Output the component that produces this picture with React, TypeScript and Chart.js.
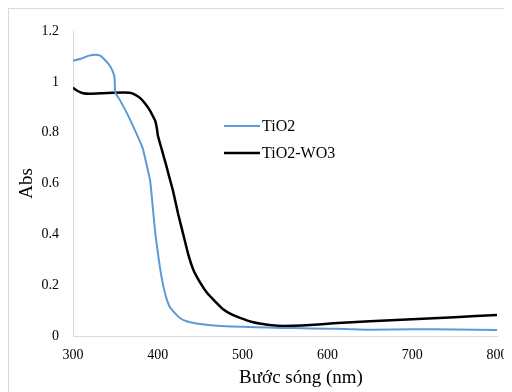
import React, { useEffect, useRef } from "react";
import { Chart, registerables } from "chart.js";

Chart.register(...registerables);

const seriesLabels = ["TiO2", "TiO2-WO3"];

const tio2X = [300, 310, 318, 326, 332, 338, 343, 347, 349, 350, 355, 364, 375, 382, 388, 391, 394, 397, 400, 403, 406, 410, 414, 418, 426, 435, 450, 470, 500, 530, 560, 600, 620, 650, 700, 750, 800];
const tio2Y = [1.083, 1.092, 1.102, 1.107, 1.103, 1.085, 1.065, 1.04, 1.016, 0.957, 0.93, 0.874, 0.795, 0.74, 0.657, 0.61, 0.51, 0.405, 0.33, 0.26, 0.205, 0.15, 0.115, 0.098, 0.071, 0.057, 0.047, 0.04, 0.036, 0.033, 0.031, 0.029, 0.028, 0.025, 0.027, 0.026, 0.024];

const wo3X = [300, 305, 312, 320, 335, 347, 360, 367, 373, 379, 385, 391, 395, 397, 399, 400, 405, 410, 414, 418, 424, 430, 436, 442, 450, 458, 467, 477, 487, 497, 510, 524, 541, 560, 580, 607, 650, 700, 750, 800];
const wo3Y = [0.977, 0.965, 0.955, 0.953, 0.955, 0.957, 0.958, 0.957, 0.95, 0.937, 0.915, 0.886, 0.86, 0.846, 0.815, 0.79, 0.73, 0.67, 0.62, 0.57, 0.48, 0.4, 0.32, 0.26, 0.21, 0.17, 0.138, 0.105, 0.085, 0.071, 0.056, 0.047, 0.04, 0.04, 0.043, 0.05, 0.058, 0.066, 0.074, 0.083];

const xTitle = "Bước sóng (nm)";
const yTitle = "Abs";

const FONT = "'Liberation Serif', 'Times New Roman', serif";

const overlayPlugin = {
  id: "overlay",
  afterDraw(chart: any) {
    const ctx = chart.ctx;
    const area = chart.chartArea;
    ctx.save();
    ctx.fillStyle = "#000";
    ctx.font = `19px ${FONT}`;
    ctx.textAlign = "center";
    ctx.textBaseline = "middle";
    ctx.fillText(xTitle, (area.left + area.right) / 2 + 16, 369);
    ctx.font = `16px ${FONT}`;
    ctx.textAlign = "left";
    chart.data.datasets.forEach((ds: any, i: number) => {
      const y = 117 + i * 27;
      ctx.strokeStyle = ds.borderColor;
      ctx.lineWidth = ds.borderWidth;
      ctx.beginPath();
      ctx.moveTo(215, y);
      ctx.lineTo(251, y);
      ctx.stroke();
      ctx.fillText(ds.label, 253, y + 1);
    });
    ctx.restore();
  },
};

export default function App() {
  const ref = useRef<HTMLCanvasElement>(null);
  useEffect(() => {
    const chart = new Chart(ref.current!, {
      type: "line",
      data: {
        datasets: [
          {
            label: seriesLabels[0],
            data: tio2X.map((x, i) => ({ x, y: tio2Y[i] })),
            borderColor: "#5B9BD5",
            borderWidth: 2,
            pointRadius: 0,
            tension: 0.2,
          },
          {
            label: seriesLabels[1],
            data: wo3X.map((x, i) => ({ x, y: wo3Y[i] })),
            borderColor: "#000000",
            borderWidth: 2.5,
            pointRadius: 0,
            tension: 0.2,
          },
        ],
      },
      options: {
        animation: false,
        responsive: false,
        layout: { padding: { left: 0, right: 12, top: 22, bottom: 0 } },
        plugins: { legend: { display: false }, tooltip: { enabled: false } },
        scales: {
          x: {
            type: "linear",
            min: 300,
            max: 800,
            grid: { display: false, drawTicks: false },
            border: { display: true, color: "#d9d9d9", width: 1 },
            ticks: { stepSize: 100, padding: 11, color: "#000", font: { family: FONT, size: 14 } },
            afterFit: (s: any) => { s.height = 73; s.paddingLeft = 0; s.paddingRight = 0; },
          },
          y: {
            min: 0,
            max: 1.2,
            grid: { display: false, drawTicks: false },
            border: { display: true, color: "#d9d9d9", width: 1 },
            ticks: {
              stepSize: 0.2,
              padding: 14,
              color: "#000",
              font: { family: FONT, size: 14 },
              callback: (v: any) => String(Number(Number(v).toFixed(1))),
            },
            title: { display: true, text: yTitle, color: "#000", font: { family: FONT, size: 19 }, padding: { top: 7, bottom: 0 } },
            afterFit: (s: any) => { s.width = 64; s.paddingTop = 0; s.paddingBottom = 0; },
          },
        },
      },
      plugins: [overlayPlugin],
    } as any);
    let alive = true;
    const fonts: any = (document as any).fonts;
    if (fonts && fonts.load) {
      Promise.all([
        fonts.load("14px 'Liberation Serif'"),
        fonts.load("19px 'Liberation Serif'"),
      ]).then(() => { if (alive) chart.update(); });
    }
    return () => { alive = false; chart.destroy(); };
  }, []);
  return (
    <div style={{ width: 500, height: 400, border: "1px solid #d9d9d9" }}>
      <canvas ref={ref} width={500} height={400} style={{ display: "block" }} />
    </div>
  );
}
